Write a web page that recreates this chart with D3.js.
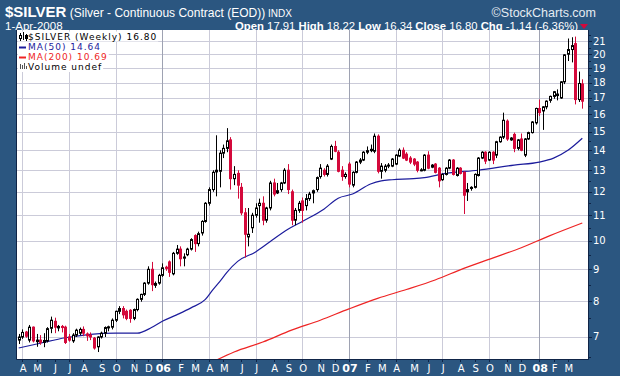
<!DOCTYPE html>
<html>
<head>
<meta charset="utf-8">
<script src="https://cdn.jsdelivr.net/npm/d3@7"></script>
<style>
  body { margin: 0; background: #2b5680; }
  svg { display: block; }
  text { white-space: pre; }
</style>
</head>
<body>
<div id="chart"></div>
<script>
const width = 620, height = 376;
const plot = { left: 16, right: 588, top: 30, bottom: 359 };

// weekly bars, Monday dated, 28-Mar-2005 .. 31-Mar-2008
const weeks = d3.timeMonday.range(new Date(2005, 2, 28), new Date(2008, 3, 1));

// OHLC
const opens = [
  6.92, 7.00, 7.13, 6.92, 7.26, 6.88, 6.92, 6.86, 6.90, 7.23, 7.42, 7.24, 7.28, 7.26, 7.00, 6.90, 7.05, 7.10, 7.20, 7.08,
  7.05, 6.97, 6.75, 7.00, 7.10, 7.24, 7.26, 7.45, 7.70, 7.78, 7.70, 7.73, 7.50, 7.75, 8.05, 8.20, 8.55, 9.00, 8.48, 8.55,
  8.80, 9.07, 9.25, 8.85, 9.55, 9.70, 9.38, 9.50, 9.70, 10.20, 9.90, 10.30, 10.75, 11.50, 12.10, 12.92, 12.95, 13.85, 14.10, 14.55,
  12.60, 12.85, 12.20, 11.10, 10.15, 10.50, 11.00, 11.40, 11.50, 10.80, 11.30, 12.40, 11.95, 12.10, 12.40, 13.00, 12.00, 10.80, 11.20, 11.60,
  11.40, 11.70, 11.95, 12.10, 12.70, 13.00, 12.80, 13.55, 14.20, 13.90, 13.00, 12.70, 13.30, 12.30, 12.90, 13.40, 13.50, 13.90, 13.98, 13.95,
  14.75, 12.95, 13.00, 13.20, 13.20, 13.30, 13.70, 14.00, 13.80, 13.60, 13.55, 13.40, 13.00, 13.00, 13.75, 13.15, 13.30, 13.10, 12.55, 12.80,
  13.10, 13.50, 12.75, 13.10, 12.90, 12.00, 12.15, 12.20, 12.75, 13.60, 13.90, 13.50, 13.90, 13.75, 14.45, 14.70, 15.60, 14.55, 14.85, 14.10,
  14.60, 13.75, 14.60, 14.95, 15.50, 16.35, 16.20, 16.45, 16.85, 17.10, 17.15, 17.00, 18.05, 20.00, 20.35, 20.80, 16.90, 17.91
];
const highs = [
  7.08, 7.20, 7.16, 7.32, 7.28, 7.08, 7.05, 7.10, 7.26, 7.55, 7.52, 7.32, 7.32, 7.30, 7.08, 7.10, 7.22, 7.25, 7.28, 7.12,
  7.12, 7.00, 7.02, 7.14, 7.28, 7.30, 7.50, 7.72, 7.85, 7.85, 7.75, 7.76, 7.78, 8.08, 8.22, 8.58, 9.10, 9.25, 8.60, 8.85,
  9.20, 9.12, 9.30, 9.60, 9.85, 9.80, 9.55, 9.75, 10.10, 10.25, 10.35, 10.80, 11.55, 12.20, 13.00, 14.80, 14.00, 14.30, 15.20, 14.70,
  13.20, 13.00, 12.40, 11.30, 11.30, 11.10, 11.50, 11.70, 11.80, 11.35, 12.50, 12.60, 12.40, 12.45, 13.10, 13.30, 12.10, 11.30, 11.60, 11.75,
  11.90, 12.00, 12.10, 12.70, 13.30, 13.10, 13.30, 14.30, 14.50, 14.00, 13.20, 12.90, 13.40, 12.95, 13.45, 13.60, 13.95, 14.20, 14.30, 14.90,
  14.85, 13.35, 13.30, 13.35, 13.60, 13.80, 14.10, 14.15, 13.90, 13.70, 13.60, 13.45, 13.10, 13.80, 13.95, 13.30, 13.35, 13.15, 12.85, 13.15,
  13.55, 13.55, 13.15, 13.15, 12.95, 12.40, 12.25, 12.85, 13.65, 13.95, 13.95, 13.95, 13.95, 14.50, 14.75, 16.10, 15.70, 14.70, 14.95, 14.60,
  14.90, 14.65, 15.00, 15.60, 16.40, 16.90, 16.50, 16.85, 17.15, 17.45, 17.55, 18.10, 20.00, 21.20, 21.30, 21.35, 18.75, 18.22
];
const lows = [
  6.82, 6.95, 6.98, 6.86, 6.86, 6.75, 6.80, 6.74, 6.86, 7.10, 7.10, 7.15, 7.12, 6.82, 6.88, 6.85, 7.00, 7.05, 7.02, 6.90,
  6.92, 6.68, 6.62, 6.96, 7.00, 7.15, 7.20, 7.40, 7.62, 7.50, 7.45, 7.38, 7.45, 7.70, 7.98, 8.15, 8.50, 8.30, 8.40, 8.50,
  8.75, 8.95, 8.75, 8.80, 9.50, 9.10, 9.10, 9.45, 9.65, 9.60, 9.80, 10.20, 10.70, 11.40, 12.00, 11.80, 12.20, 13.60, 13.90, 12.10,
  12.30, 11.70, 11.00, 9.40, 9.80, 10.30, 10.90, 10.70, 10.60, 10.70, 11.20, 11.80, 11.90, 12.00, 12.35, 11.90, 10.60, 10.60, 11.10, 10.70,
  11.20, 11.60, 11.50, 12.00, 12.60, 12.70, 12.70, 13.50, 13.90, 12.90, 12.50, 12.60, 12.20, 12.20, 12.85, 13.30, 13.45, 13.80, 13.90, 13.85,
  12.85, 12.60, 12.90, 13.10, 13.15, 13.25, 13.65, 13.55, 13.45, 13.30, 13.20, 12.90, 12.95, 12.95, 13.05, 13.10, 12.85, 12.20, 12.50, 12.75,
  13.05, 12.75, 12.70, 12.80, 11.05, 11.60, 12.05, 12.15, 12.70, 13.55, 13.30, 13.45, 13.30, 13.60, 14.40, 14.60, 14.50, 14.50, 13.90, 14.00,
  13.95, 13.65, 14.55, 14.90, 15.40, 15.90, 15.10, 16.30, 16.70, 16.95, 16.85, 16.95, 17.90, 19.50, 19.40, 16.60, 16.75, 16.34
];
const closes = [
  7.00, 7.12, 7.02, 7.26, 6.90, 6.92, 6.86, 6.91, 7.22, 7.45, 7.26, 7.28, 7.25, 6.86, 6.92, 7.05, 7.18, 7.20, 7.10, 7.03,
  7.00, 6.72, 7.00, 7.10, 7.25, 7.27, 7.45, 7.70, 7.78, 7.60, 7.50, 7.50, 7.75, 8.05, 8.20, 8.55, 9.00, 8.50, 8.54, 8.80,
  9.05, 9.03, 8.90, 9.55, 9.70, 9.36, 9.42, 9.70, 10.05, 9.90, 10.27, 10.75, 11.50, 12.10, 12.90, 13.00, 13.85, 14.10, 14.50, 12.60,
  12.80, 12.30, 11.10, 10.25, 10.25, 11.00, 11.30, 11.50, 10.80, 11.30, 12.40, 11.90, 12.05, 12.40, 13.00, 12.10, 10.80, 11.20, 11.50, 11.20,
  11.70, 11.90, 12.05, 12.65, 13.10, 12.80, 13.20, 14.20, 13.95, 12.95, 12.70, 12.80, 12.35, 12.90, 13.40, 13.50, 13.90, 13.98, 14.05, 14.75,
  12.95, 13.20, 13.20, 13.25, 13.55, 13.75, 14.00, 13.60, 13.50, 13.40, 13.30, 13.00, 13.02, 13.75, 13.10, 13.25, 12.90, 12.50, 12.80, 13.10,
  13.50, 12.80, 13.10, 12.85, 11.85, 12.10, 12.20, 12.80, 13.60, 13.90, 13.45, 13.90, 13.50, 14.45, 14.70, 15.65, 14.60, 14.65, 14.10, 14.55,
  14.00, 14.60, 14.95, 15.55, 16.35, 16.10, 16.45, 16.80, 17.10, 17.40, 17.25, 18.05, 19.95, 20.35, 20.65, 16.90, 17.94, 16.80
];

// moving averages (week index, value)
const ma50Weeks  = [0, 6, 13, 20, 27, 33, 37, 40, 44, 48, 52, 54, 56, 58, 61, 66, 70, 75, 79, 85, 89, 93, 98, 101, 104, 110, 113, 119, 128, 138, 145, 149, 153, 157];
const ma50Values = [6.72, 6.84, 6.98, 7.07, 7.10, 7.10, 7.25, 7.42, 7.60, 7.80, 8.05, 8.33, 8.60, 8.90, 9.27, 9.60, 9.97, 10.44, 10.75, 11.25, 11.72, 11.90, 12.35, 12.50, 12.55, 12.60, 12.65, 12.85, 13.00, 13.25, 13.40, 13.60, 14.00, 14.64];
const ma200Weeks  = [54, 60, 68, 76, 84, 92, 100, 108, 116, 124, 132, 140, 148, 157];
const ma200Values = [6.38, 6.62, 6.87, 7.18, 7.45, 7.77, 8.08, 8.35, 8.65, 9.03, 9.38, 9.75, 10.20, 10.69];

const priceTicks = [7, 8, 9, 10, 11, 12, 13, 14, 15, 16, 17, 18, 19, 20, 21];
const monthLetters = ["J", "F", "M", "A", "M", "J", "J", "A", "S", "O", "N", "D"];
const yearLabels = { 2006: "06", 2007: "07", 2008: "08" };

const bg = "#2b5680", upColor = "#000000", downColor = "#d4093b";
const ma50Color = "#1c1c9c", ma200Color = "#ee2424";

const x = d3.scaleTime()
  .domain([weeks[0], weeks[weeks.length - 1]])
  .range([18.7, 582.3]);
const y = d3.scaleLog()
  .domain([6.451, 21.88])
  .range([plot.bottom, plot.top]);

const svg = d3.select("#chart").append("svg")
  .attr("width", width)
  .attr("height", height);

svg.append("rect").attr("width", width).attr("height", height).attr("fill", bg);

svg.append("defs").append("clipPath").attr("id", "plotclip")
  .append("rect")
  .attr("x", plot.left).attr("y", plot.top)
  .attr("width", plot.right - plot.left).attr("height", plot.bottom - plot.top);

svg.append("rect")
  .attr("x", plot.left).attr("y", plot.top)
  .attr("width", plot.right - plot.left).attr("height", plot.bottom - plot.top)
  .attr("fill", "#ffffff");

// first bar of each month
const months = d3.timeMonth.range(new Date(2005, 3, 1), new Date(2008, 3, 1));
const monthBars = months.map(m => ({ month: m, week: weeks.find(w => w >= m) }));

const grid = svg.append("g").attr("clip-path", "url(#plotclip)");
grid.selectAll(".hgrid")
  .data(priceTicks)
  .join("line")
  .attr("class", "hgrid")
  .attr("x1", plot.left).attr("x2", plot.right)
  .attr("y1", d => Math.round(y(d)) + 0.5).attr("y2", d => Math.round(y(d)) + 0.5)
  .attr("stroke", "#cbcbd9");
grid.selectAll(".vgrid")
  .data(monthBars.filter(d => d.month.getMonth() % 3 === 0))
  .join("line")
  .attr("class", "vgrid")
  .attr("x1", d => Math.round(x(d.week)) + 0.5).attr("x2", d => Math.round(x(d.week)) + 0.5)
  .attr("y1", plot.top).attr("y2", plot.bottom)
  .attr("stroke", d => d.month.getMonth() === 0 ? "#9ea2b2" : "#cbcbd9");

// moving averages
const maLine = d3.line()
  .x(d => x(weeks[d[0]]))
  .y(d => y(d[1]))
  .curve(d3.curveMonotoneX);
const lines = svg.append("g").attr("clip-path", "url(#plotclip)");
lines.append("path")
  .datum(d3.zip(ma200Weeks, ma200Values))
  .attr("d", maLine)
  .attr("fill", "none").attr("stroke", ma200Color).attr("stroke-width", 1.2);
lines.append("path")
  .datum(d3.zip(ma50Weeks, ma50Values))
  .attr("d", maLine)
  .attr("fill", "none").attr("stroke", ma50Color).attr("stroke-width", 1.2);

// candles
const bars = weeks.map((w, i) => ({ date: w, o: opens[i], h: highs[i], l: lows[i], c: closes[i] }));
const candle = svg.append("g").attr("clip-path", "url(#plotclip)")
  .selectAll(".candle")
  .data(bars)
  .join("g")
  .attr("class", "candle");
candle.append("line")
  .attr("x1", d => Math.round(x(d.date)) + 0.5).attr("x2", d => Math.round(x(d.date)) + 0.5)
  .attr("y1", d => y(d.h)).attr("y2", d => y(d.l))
  .attr("stroke", d => d.c >= d.o ? upColor : downColor);
candle.append("rect")
  .attr("x", d => Math.round(x(d.date)) - 0.5)
  .attr("width", 2)
  .attr("y", d => y(Math.max(d.o, d.c)))
  .attr("height", d => Math.max(1, y(Math.min(d.o, d.c)) - y(Math.max(d.o, d.c))))
  .attr("fill", d => d.c >= d.o ? "#ffffff" : downColor)
  .attr("stroke", d => d.c >= d.o ? upColor : downColor);

// plot frame
svg.append("path")
  .attr("d", `M${plot.left + 0.5},${plot.top} V${plot.bottom + 0.5} H${plot.right + 0.5} V${plot.top}`)
  .attr("fill", "none").attr("stroke", "#0f2447");

// right price axis
const minorTicks = d3.range(6.5, 21.9, 0.5);
svg.selectAll(".ytick")
  .data(minorTicks)
  .join("line")
  .attr("class", "ytick")
  .attr("x1", plot.right + 1).attr("x2", d => plot.right + (Number.isInteger(d) ? 4 : 3))
  .attr("y1", d => Math.round(y(d)) + 0.5).attr("y2", d => Math.round(y(d)) + 0.5)
  .attr("stroke", "#0f2447");
svg.selectAll(".ylabel")
  .data(priceTicks)
  .join("text")
  .attr("class", "ylabel")
  .attr("x", plot.right + 5)
  .attr("y", d => y(d) + 3.5)
  .attr("fill", "#ffffff")
  .attr("font-family", "DejaVu Sans")
  .attr("font-size", 10)
  .text(d => d);

// bottom month axis
svg.selectAll(".xtick")
  .data(monthBars)
  .join("line")
  .attr("class", "xtick")
  .attr("x1", d => Math.round(x(d.week)) + 0.5).attr("x2", d => Math.round(x(d.week)) + 0.5)
  .attr("y1", plot.bottom + 1).attr("y2", plot.bottom + 3)
  .attr("stroke", "#0f2447");
svg.selectAll(".xlabel")
  .data(monthBars)
  .join("text")
  .attr("class", "xlabel")
  .attr("x", d => x(d.week) + 1)
  .attr("y", 372)
  .attr("text-anchor", "middle")
  .attr("fill", "#ffffff")
  .attr("font-family", "DejaVu Sans")
  .attr("font-size", d => d.month.getMonth() === 0 ? 11 : 10)
  .attr("font-weight", d => d.month.getMonth() === 0 ? "bold" : "normal")
  .text(d => d.month.getMonth() === 0 ? yearLabels[d.month.getFullYear()] : monthLetters[d.month.getMonth()]);

// header
const head = svg.append("g").attr("font-family", "Liberation Sans, Arial, sans-serif").attr("fill", "#ffffff");
const title = head.append("text").attr("x", 5).attr("y", 16.5);
title.append("tspan").attr("font-size", 15).attr("font-weight", "bold").text("$SILVER");
title.append("tspan").attr("font-size", 12).text(" (Silver - Continuous Contract (EOD))");
title.append("tspan").attr("font-size", 10).text(" INDX");
head.append("text").attr("x", 596).attr("y", 17).attr("text-anchor", "end")
  .attr("font-size", 12.5).attr("fill", "#e6ecf2").text("\u00A9StockCharts.com");
head.append("text").attr("x", 5).attr("y", 30).attr("font-size", 11.5).text("1-Apr-2008");

const quote = [
  ["Open ", true], ["17.91 ", false], ["High ", true], ["18.22 ", false], ["Low ", true], ["16.34 ", false],
  ["Close ", true], ["16.80 ", false], ["Chg ", true], ["-1.14 (-6.36%)", false]
];
head.append("text").attr("x", 578).attr("y", 30).attr("text-anchor", "end").attr("font-size", 11.3)
  .selectAll("tspan")
  .data(quote)
  .join("tspan")
  .attr("font-weight", d => d[1] ? "bold" : "normal")
  .text(d => d[0]);
svg.append("path").attr("d", "M580,24 H588 L584,29 Z").attr("fill", downColor);

// legend
const legendRows = [
  { label: "$SILVER (Weekly) 16.80", color: "#000000", y: 36.5 },
  { label: "MA(50) 14.64", color: ma50Color, y: 47 },
  { label: "MA(200) 10.69", color: ma200Color, y: 57 },
  { label: "Volume undef", color: "#000000", y: 67 }
];
const legend = svg.append("g").attr("font-family", "DejaVu Sans").attr("font-size", 9).attr("letter-spacing", 1);
legendRows.forEach(r => {
  const t = legend.append("text").attr("x", 28).attr("y", r.y + 3.3).attr("fill", r.color).text(r.label);
  const bb = t.node().getBBox();
  legend.insert("rect", "text").attr("x", 18).attr("y", r.y - 5).attr("width", bb.x + bb.width - 17).attr("height", 10).attr("fill", "#ffffff");
});
// legend icons
legend.append("path").attr("d", "M20.5,33 V41 M23.5,32 V40 M26.5,34 V41").attr("stroke", "#000").attr("fill", "none");
legend.append("rect").attr("x", 19.5).attr("y", 35.5).attr("width", 2).attr("height", 3).attr("fill", "#fff").attr("stroke", "#000");
legend.append("rect").attr("x", 25).attr("y", 35).attr("width", 3).attr("height", 4).attr("fill", "#000");
legend.append("line").attr("x1", 19).attr("x2", 26).attr("y1", 47.5).attr("y2", 47.5).attr("stroke", ma50Color).attr("stroke-width", 2);
legend.append("line").attr("x1", 19).attr("x2", 26).attr("y1", 57.5).attr("y2", 57.5).attr("stroke", ma200Color).attr("stroke-width", 2);
legend.append("path").attr("d", "M20.5,69 V64 M22.5,69 V65 M24.5,69 V63 M26.5,69 V66").attr("stroke", "#555").attr("fill", "none");
</script>
</body>
</html>
